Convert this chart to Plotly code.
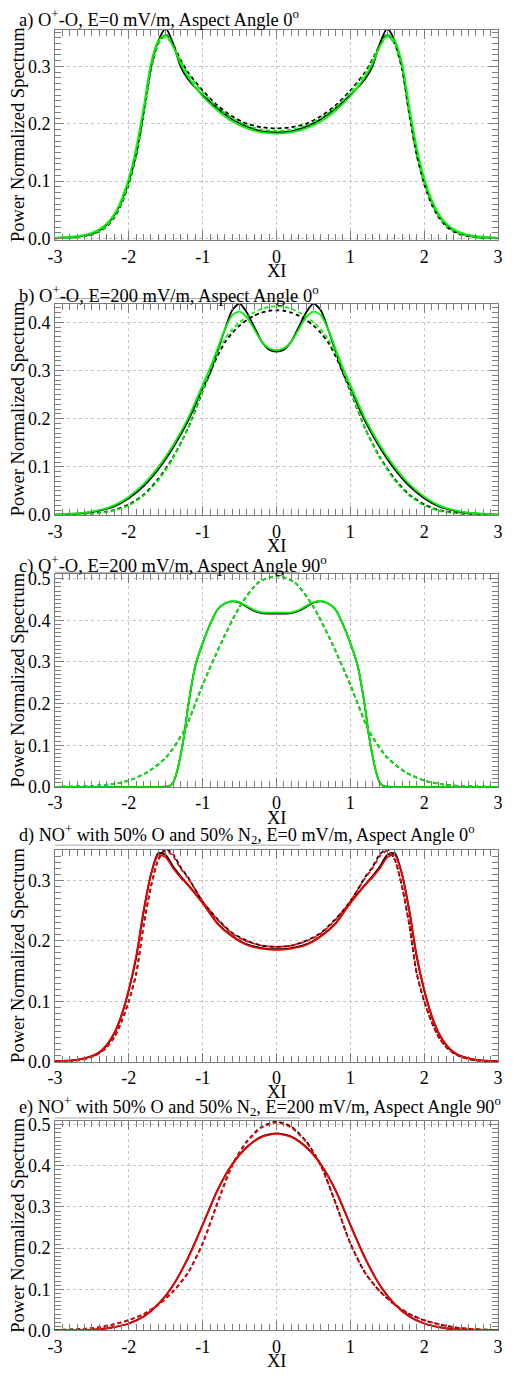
import plotly.graph_objects as go

# ---------------- data ----------------
x_ad = [-3.0, -2.7, -2.5, -2.4, -2.3, -2.2, -2.1, -2.0, -1.9, -1.8, -1.7, -1.6, -1.5, -1.4, -1.3, -1.2, -1.0, -0.8, -0.6, -0.4, -0.2,
        0.0, 0.2, 0.4, 0.6, 0.8, 1.0, 1.2, 1.3, 1.4, 1.5, 1.6, 1.7, 1.8, 1.9, 2.0, 2.1, 2.2, 2.3, 2.4, 2.5, 2.7, 3.0]

a_black_solid = [0.001, 0.003, 0.008, 0.014, 0.024, 0.040, 0.065, 0.100, 0.148, 0.220, 0.300, 0.345, 0.366, 0.340, 0.300, 0.278, 0.250, 0.227, 0.208, 0.195, 0.187,
                 0.185, 0.187, 0.195, 0.208, 0.227, 0.250, 0.278, 0.300, 0.340, 0.366, 0.345, 0.300, 0.220, 0.148, 0.100, 0.065, 0.040, 0.024, 0.014, 0.008, 0.003, 0.001]
a_black_dash = [0.0005, 0.002, 0.007, 0.012, 0.021, 0.036, 0.060, 0.095, 0.145, 0.215, 0.295, 0.340, 0.356, 0.338, 0.312, 0.290, 0.258, 0.232, 0.213, 0.200, 0.194,
                0.192, 0.194, 0.200, 0.213, 0.232, 0.258, 0.290, 0.312, 0.338, 0.356, 0.340, 0.295, 0.215, 0.145, 0.095, 0.060, 0.036, 0.021, 0.012, 0.007, 0.002, 0.0005]
a_color_solid = [0.001, 0.004, 0.010, 0.016, 0.026, 0.042, 0.068, 0.105, 0.158, 0.228, 0.305, 0.345, 0.355, 0.335, 0.305, 0.282, 0.248, 0.223, 0.204, 0.192, 0.185,
                 0.183, 0.185, 0.192, 0.204, 0.223, 0.248, 0.282, 0.305, 0.335, 0.355, 0.345, 0.305, 0.228, 0.158, 0.105, 0.068, 0.042, 0.026, 0.016, 0.010, 0.004, 0.001]
a_color_dash = [0.0005, 0.002, 0.008, 0.013, 0.022, 0.038, 0.062, 0.098, 0.148, 0.218, 0.298, 0.340, 0.352, 0.335, 0.310, 0.287, 0.255, 0.229, 0.210, 0.197, 0.190,
                0.188, 0.190, 0.197, 0.210, 0.229, 0.255, 0.287, 0.310, 0.335, 0.352, 0.340, 0.298, 0.218, 0.148, 0.098, 0.062, 0.038, 0.022, 0.013, 0.008, 0.002, 0.0005]

x_b = [-3.0, -2.6, -2.4, -2.2, -2.0, -1.8, -1.6, -1.4, -1.2, -1.0, -0.9, -0.8, -0.7, -0.6, -0.5, -0.4, -0.3, -0.2, -0.1,
       0.0, 0.1, 0.2, 0.3, 0.4, 0.5, 0.6, 0.7, 0.8, 0.9, 1.0, 1.2, 1.4, 1.6, 1.8, 2.0, 2.2, 2.4, 2.6, 3.0]
b_black_solid = [0.001, 0.004, 0.009, 0.018, 0.035, 0.060, 0.095, 0.140, 0.195, 0.263, 0.295, 0.340, 0.385, 0.425, 0.439, 0.420, 0.390, 0.360, 0.343,
                 0.339, 0.343, 0.360, 0.390, 0.420, 0.439, 0.425, 0.385, 0.340, 0.295, 0.263, 0.195, 0.140, 0.095, 0.060, 0.035, 0.018, 0.009, 0.004, 0.001]
b_color_solid = [0.001, 0.005, 0.010, 0.020, 0.038, 0.064, 0.100, 0.145, 0.200, 0.270, 0.305, 0.345, 0.385, 0.415, 0.422, 0.410, 0.385, 0.360, 0.346,
                 0.342, 0.346, 0.360, 0.385, 0.410, 0.422, 0.415, 0.385, 0.345, 0.305, 0.270, 0.200, 0.145, 0.100, 0.064, 0.038, 0.020, 0.010, 0.005, 0.001]
b_black_dash = [0.000, 0.002, 0.005, 0.010, 0.022, 0.042, 0.075, 0.120, 0.180, 0.257, 0.295, 0.330, 0.358, 0.378, 0.393, 0.405, 0.414, 0.420, 0.424,
                0.425, 0.424, 0.420, 0.414, 0.405, 0.393, 0.378, 0.358, 0.330, 0.295, 0.257, 0.180, 0.120, 0.075, 0.042, 0.022, 0.010, 0.005, 0.002, 0.000]
b_color_dash = [0.000, 0.002, 0.004, 0.009, 0.020, 0.040, 0.072, 0.118, 0.180, 0.260, 0.300, 0.338, 0.365, 0.385, 0.400, 0.412, 0.421, 0.428, 0.432,
                0.433, 0.432, 0.428, 0.421, 0.412, 0.400, 0.385, 0.365, 0.338, 0.300, 0.260, 0.180, 0.118, 0.072, 0.040, 0.020, 0.009, 0.004, 0.002, 0.000]

x_c_solid = [-3.0, -2.0, -1.6, -1.45, -1.4, -1.35, -1.3, -1.25, -1.2, -1.1, -1.0, -0.9, -0.8, -0.7, -0.6, -0.5, -0.4, -0.3, -0.2, -0.1,
             0.0, 0.1, 0.2, 0.3, 0.4, 0.5, 0.6, 0.7, 0.8, 0.9, 1.0, 1.1, 1.2, 1.25, 1.3, 1.35, 1.4, 1.45, 1.6, 2.0, 3.0]
c_black_solid = [0.0, 0.0, 0.0, 0.002, 0.010, 0.035, 0.075, 0.125, 0.190, 0.290, 0.345, 0.390, 0.425, 0.440, 0.445, 0.442, 0.432, 0.422, 0.417, 0.416,
                 0.416, 0.416, 0.417, 0.422, 0.432, 0.442, 0.445, 0.440, 0.425, 0.390, 0.345, 0.290, 0.190, 0.125, 0.075, 0.035, 0.010, 0.002, 0.0, 0.0, 0.0]
c_color_solid = [0.0, 0.0, 0.0, 0.002, 0.010, 0.035, 0.075, 0.125, 0.190, 0.290, 0.345, 0.390, 0.425, 0.440, 0.446, 0.443, 0.434, 0.424, 0.419, 0.418,
                 0.418, 0.418, 0.419, 0.424, 0.434, 0.443, 0.446, 0.440, 0.425, 0.390, 0.345, 0.290, 0.190, 0.125, 0.075, 0.035, 0.010, 0.002, 0.0, 0.0, 0.0]
x_c_dash = [-3.0, -2.5, -2.25, -2.0, -1.75, -1.5, -1.25, -1.0, -0.75, -0.5, -0.25, 0.0, 0.25, 0.5, 0.75, 1.0, 1.25, 1.5, 1.75, 2.0, 2.25, 2.5, 3.0]
c_black_dash = [0.0, 0.002, 0.006, 0.015, 0.035, 0.070, 0.135, 0.245, 0.345, 0.432, 0.490, 0.506, 0.490, 0.432, 0.345, 0.245, 0.135, 0.070, 0.035, 0.015, 0.006, 0.002, 0.0]
c_color_dash = [0.0, 0.002, 0.006, 0.015, 0.035, 0.070, 0.135, 0.245, 0.345, 0.432, 0.490, 0.506, 0.490, 0.432, 0.345, 0.245, 0.135, 0.070, 0.035, 0.015, 0.006, 0.002, 0.0]

d_black_solid = [0.001, 0.003, 0.009, 0.015, 0.027, 0.046, 0.076, 0.118, 0.172, 0.248, 0.310, 0.345, 0.342, 0.323, 0.307, 0.293, 0.263, 0.229, 0.208, 0.194, 0.188,
                 0.186, 0.188, 0.194, 0.208, 0.229, 0.263, 0.293, 0.307, 0.323, 0.342, 0.345, 0.310, 0.248, 0.172, 0.118, 0.076, 0.046, 0.027, 0.015, 0.009, 0.003, 0.001]
d_black_dash = [0.0005, 0.002, 0.008, 0.014, 0.024, 0.040, 0.066, 0.100, 0.145, 0.225, 0.290, 0.335, 0.352, 0.343, 0.322, 0.305, 0.265, 0.236, 0.213, 0.200, 0.192,
                0.190, 0.192, 0.200, 0.213, 0.236, 0.265, 0.305, 0.322, 0.343, 0.352, 0.335, 0.290, 0.225, 0.145, 0.100, 0.066, 0.040, 0.024, 0.014, 0.008, 0.002, 0.0005]
d_color_solid = [0.001, 0.003, 0.009, 0.016, 0.028, 0.047, 0.077, 0.120, 0.175, 0.250, 0.310, 0.342, 0.338, 0.320, 0.305, 0.292, 0.262, 0.228, 0.207, 0.193, 0.187,
                 0.185, 0.187, 0.193, 0.207, 0.228, 0.262, 0.292, 0.305, 0.320, 0.338, 0.342, 0.310, 0.250, 0.175, 0.120, 0.077, 0.047, 0.028, 0.016, 0.009, 0.003, 0.001]
d_color_dash = [0.0005, 0.002, 0.008, 0.014, 0.024, 0.040, 0.066, 0.101, 0.147, 0.226, 0.290, 0.334, 0.349, 0.340, 0.320, 0.304, 0.265, 0.235, 0.212, 0.199, 0.192,
                0.190, 0.192, 0.199, 0.212, 0.235, 0.265, 0.304, 0.320, 0.340, 0.349, 0.334, 0.290, 0.226, 0.147, 0.101, 0.066, 0.040, 0.024, 0.014, 0.008, 0.002, 0.0005]

x_e = [-3.0, -2.6, -2.4, -2.2, -2.0, -1.8, -1.6, -1.4, -1.2, -1.0, -0.8, -0.6, -0.4, -0.2,
       0.0, 0.2, 0.4, 0.6, 0.8, 1.0, 1.2, 1.4, 1.6, 1.8, 2.0, 2.2, 2.4, 2.6, 3.0]
e_black_solid = [0.0, 0.001, 0.003, 0.008, 0.017, 0.034, 0.064, 0.110, 0.176, 0.257, 0.341, 0.404, 0.446, 0.471,
                 0.479, 0.471, 0.446, 0.404, 0.341, 0.257, 0.176, 0.110, 0.064, 0.034, 0.017, 0.008, 0.003, 0.001, 0.0]
e_color_solid = [0.0, 0.001, 0.003, 0.008, 0.017, 0.034, 0.064, 0.110, 0.175, 0.256, 0.340, 0.403, 0.445, 0.470,
                 0.478, 0.470, 0.445, 0.403, 0.340, 0.256, 0.175, 0.110, 0.064, 0.034, 0.017, 0.008, 0.003, 0.001, 0.0]
e_black_dash = [0.001, 0.004, 0.008, 0.015, 0.025, 0.040, 0.063, 0.095, 0.140, 0.212, 0.310, 0.402, 0.460, 0.495,
                0.507, 0.495, 0.460, 0.402, 0.310, 0.212, 0.140, 0.095, 0.063, 0.040, 0.025, 0.015, 0.008, 0.004, 0.001]
e_color_dash = [0.001, 0.004, 0.008, 0.015, 0.025, 0.040, 0.063, 0.095, 0.140, 0.211, 0.309, 0.400, 0.458, 0.493,
                0.505, 0.493, 0.458, 0.400, 0.309, 0.211, 0.140, 0.095, 0.063, 0.040, 0.025, 0.015, 0.008, 0.004, 0.001]

titles = [
    "a) O<sup>+</sup>-O, E=0 mV/m, Aspect Angle 0<sup>o</sup>",
    "b) O<sup>+</sup>-O, E=200 mV/m, Aspect Angle 0<sup>o</sup>",
    "c) O<sup>+</sup>-O, E=200 mV/m, Aspect Angle 90<sup>o</sup>",
    "d) NO<sup>+</sup> with 50% O and 50% N<sub>2</sub>, E=0 mV/m, Aspect Angle 0<sup>o</sup>",
    "e) NO<sup>+</sup> with 50% O and 50% N<sub>2</sub>, E=200 mV/m, Aspect Angle 90<sup>o</sup>",
]
x_tick_vals = [-3, -2, -1, 0, 1, 2, 3]
x_tick_text = ["-3", "-2", "-1", "0", "1", "2", "3"]
y_ranges = [[-0.003, 0.364], [0, 0.439], [0, 0.51], [0, 0.35], [0, 0.509]]
x_title = "XI"
y_title = "Power Normalized Spectrum"

# ---------------- figure ----------------
W, H = 513, 1383
L, R = 55, 15
panel_px = [(24, 237), (301, 515), (575, 790), (854, 1068), (1128, 1340)]
title_px = [13, 292, 565, 838, 1113]
title_size = [18.5, 18.5, 18.5, 18.2, 18.2]
underline_px = [None, 296, 573, 849, 1125]   # faint rule under the panel titles

GREEN = "rgb(0,245,0)"
RED = "rgb(240,0,0)"
FONT = "Liberation Serif"
AXC = "#7c7c7c"

panels = [
    (x_ad, x_ad, a_black_solid, a_black_dash, a_color_solid, a_color_dash, GREEN),
    (x_b, x_b, b_black_solid, b_black_dash, b_color_solid, b_color_dash, GREEN),
    (x_c_solid, x_c_dash, c_black_solid, c_black_dash, c_color_solid, c_color_dash, GREEN),
    (x_ad, x_ad, d_black_solid, d_black_dash, d_color_solid, d_color_dash, RED),
    (x_e, x_e, e_black_solid, e_black_dash, e_color_solid, e_color_dash, RED),
]

fig = go.Figure()
layout = dict(
    width=W, height=H, autosize=False,
    margin=dict(l=L, r=R, t=0, b=0, pad=0),
    paper_bgcolor="white", plot_bgcolor="white",
    showlegend=False,
    font=dict(family=FONT, size=18, color="black"),
)
annotations = []
shapes = []
plot_w = W - L - R

def ypaper(px):
    return 1 - px / H

for i, (xs, xd, bs, bd, cs, cd, col) in enumerate(panels):
    n = "" if i == 0 else str(i + 1)
    xa, ya = "x" + n, "y" + n
    for xx, yy, c, dash in [(xs, bs, "black", "solid"), (xd, bd, "black", "4px,3px"),
                            (xs, cs, col, "solid"), (xd, cd, col, "4px,3px")]:
        fig.add_trace(go.Scatter(x=xx, y=yy, mode="lines", xaxis=xa, yaxis=ya,
                                 line=dict(color=c, width=1.8, dash=dash, shape="spline", smoothing=0.7),
                                 hoverinfo="skip"))

    top, bot = panel_px[i]
    common = dict(ticks="inside", tickcolor=AXC, tickwidth=1, showline=True, linecolor=AXC,
                  linewidth=1, mirror="allticks", showgrid=True, gridcolor="#c4c4c4",
                  griddash="dot", gridwidth=1, zeroline=False,
                  tickfont=dict(family=FONT, size=18, color="black"))
    layout["xaxis" + n] = dict(domain=[0, 1], anchor=ya, range=[-3, 3],
                               tickmode="array", tickvals=x_tick_vals, ticktext=x_tick_text, ticklen=9,
                               minor=dict(ticks="inside", ticklen=6, dtick=0.1, tick0=0, tickcolor=AXC,
                                          tickwidth=1, showgrid=False),
                               **common)
    layout["yaxis" + n] = dict(domain=[ypaper(bot), ypaper(top)], anchor=xa, range=y_ranges[i],
                               tickmode="linear", dtick=0.1, tick0=0, tickformat=".1f", ticklen=9,
                               minor=dict(ticks="inside", ticklen=6, dtick=0.01, tick0=0, tickcolor=AXC,
                                          tickwidth=1, showgrid=False),
                               **common)

    annotations.append(dict(text=titles[i], xref="paper", yref="paper", x=(17 - L) / plot_w,
                            y=ypaper(title_px[i]), xanchor="left", yanchor="middle", showarrow=False,
                            font=dict(family=FONT, size=title_size[i])))
    annotations.append(dict(text=x_title, xref="paper", yref="paper", x=0.5, y=ypaper(bot + 31),
                            xanchor="center", yanchor="middle", showarrow=False, font=dict(family=FONT, size=18.5)))
    annotations.append(dict(text=y_title, xref="paper", yref="paper", x=(18 - L) / plot_w,
                            y=ypaper((top + bot) / 2), xanchor="center", yanchor="middle", textangle=-90,
                            showarrow=False, font=dict(family=FONT, size=18.5)))
    if underline_px[i] is not None:
        shapes.append(dict(type="line", xref="paper", yref="paper", x0=0, x1=(300 - L) / plot_w,
                           y0=ypaper(underline_px[i]), y1=ypaper(underline_px[i]),
                           line=dict(color="#a8a8a8", width=1)))

layout["annotations"] = annotations
layout["shapes"] = shapes
fig.update_layout(**layout)
fig.write_html("out.html",
               post_script="document.body.style.margin='0';document.body.style.overflow='hidden';",
               config={"displayModeBar": False})
